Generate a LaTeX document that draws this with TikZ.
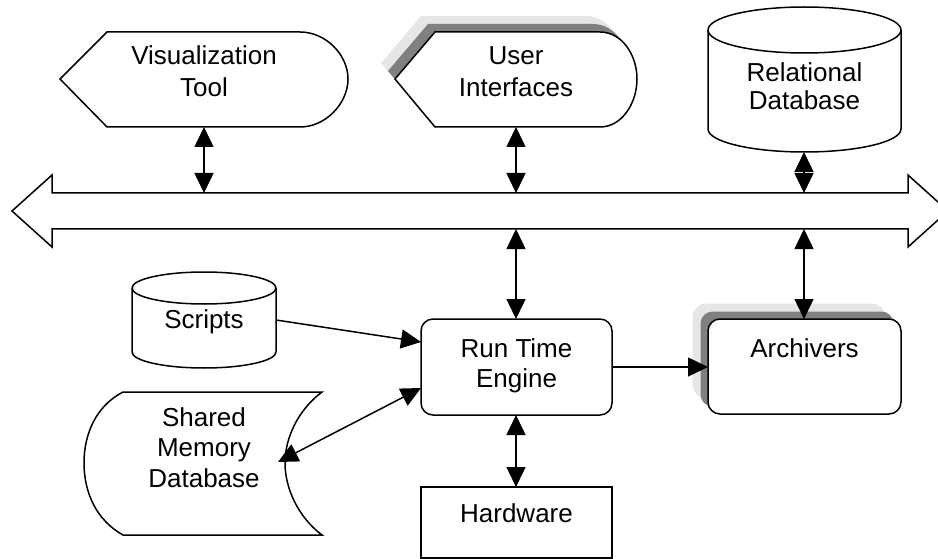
\documentclass[tikz,border=0pt]{standalone}
\usepackage{fontspec}
\setmainfont{Liberation Sans}
\usetikzlibrary{arrows.meta}
\definecolor{shdark}{HTML}{808080}
\definecolor{shlight}{HTML}{E6E6E6}
\tikzset{
  lbl/.style={font=\fontsize{26}{30.5}\selectfont, align=center, anchor=base, inner sep=0pt},
  ln/.style={line width=1.5pt},
  shp/.style={ln, fill=white},
  dbl/.style={ln, {Triangle[length=20pt,width=19pt]}-{Triangle[length=20pt,width=19pt]}},
  sgl/.style={ln, -{Triangle[length=20pt,width=19pt]}},
  boxn/.style={ln, draw, fill=white, inner sep=0pt},
}
\begin{document}
\begin{tikzpicture}[x=1pt,y=-1pt]
\useasboundingbox (0,0) rectangle (938,559);
% bus
\draw[shp] (12,211) -- (52,175) -- (52,193) -- (908,193) -- (908,175) -- (948,211) -- (908,247) -- (908,229) -- (52,229) -- (52,247) -- cycle;
% Visualization Tool
\draw[shp] (60,79) -- (107,32) -- (300,32) .. controls (326,32) and (348,55) .. (348,79) .. controls (348,103) and (326,127) .. (300,127) -- (107,127) -- cycle;
\node[lbl, font=\fontsize{26}{32}\selectfont] (vt) at (204,97) {Visualization\\Tool};
% User Interfaces with shadow
\begin{scope}[shift={(-14,-16)}]
\fill[shlight] (395,79) -- (435,32) -- (600,32) .. controls (622,32) and (637,55) .. (637,79) .. controls (637,103) and (622,127) .. (600,127) -- (435,127) -- cycle;
\end{scope}
\begin{scope}[shift={(-7,-8)}]
\fill[shdark] (395,79) -- (435,32) -- (600,32) .. controls (622,32) and (637,55) .. (637,79) .. controls (637,103) and (622,127) .. (600,127) -- (435,127) -- cycle;
\end{scope}
\draw[shp] (395,79) -- (435,32) -- (600,32) .. controls (622,32) and (637,55) .. (637,79) .. controls (637,103) and (622,127) .. (600,127) -- (435,127) -- cycle;
\node[lbl, font=\fontsize{26}{32}\selectfont] (ui) at (516,97) {User\\Interfaces};
% Relational Database cylinder
\draw[shp] (708,30) -- (708,129) .. controls (708,141.7) and (751.2,152) .. (804.5,152) .. controls (857.8,152) and (901,141.7) .. (901,129) -- (901,30) .. controls (901,17.3) and (857.8,7) .. (804.5,7) .. controls (751.2,7) and (708,17.3) .. (708,30) -- cycle;
\draw[ln] (708,30) .. controls (708,42.7) and (751.2,53) .. (804.5,53) .. controls (857.8,53) and (901,42.7) .. (901,30);
\node[lbl, font=\fontsize{26}{28.5}\selectfont] (rdb) at (804.5,110) {Relational\\Database};
% Scripts cylinder
\draw[shp] (132,288) -- (132,352) .. controls (132,360.8) and (164.2,368) .. (204,368) .. controls (243.8,368) and (276,360.8) .. (276,352) -- (276,288) .. controls (276,279.2) and (243.8,272) .. (204,272) .. controls (164.2,272) and (132,279.2) .. (132,288) -- cycle;
\draw[ln] (132,288) .. controls (132,296.8) and (164.2,304) .. (204,304) .. controls (243.8,304) and (276,296.8) .. (276,288);
\node[lbl] (scr) at (204,328) {Scripts};
% Shared Memory Database
\draw[shp] (123,392) -- (322,392) .. controls (298,410) and (285,438) .. (285,463) .. controls (285,488) and (298,517) .. (322,535) -- (123,535) .. controls (96,520) and (84,492) .. (84,463) .. controls (84,434) and (96,406) .. (123,392) -- cycle;
\node[lbl] (smd) at (204,487) {Shared\\Memory\\Database};
% Run Time Engine
\node[boxn, rounded corners=12pt, minimum width=191pt, minimum height=96pt] (rte) at (516.5,367) {};
\node[lbl, font=\fontsize{26}{30}\selectfont] (rtet) at (516.5,387) {Run Time\\Engine};
% Archivers with shadow
\node[fill=shlight, rounded corners=14pt, minimum width=193pt, minimum height=95pt, inner sep=0pt] (arsh1) at (789,351) {};
\node[fill=shdark, rounded corners=12pt, minimum width=193pt, minimum height=95pt, inner sep=0pt] (arsh2) at (797,359) {};
\node[boxn, rounded corners=12pt, minimum width=193pt, minimum height=95pt] (arc) at (804.5,366.5) {};
\node[lbl] (arct) at (804.5,357) {Archivers};
% Hardware
\node[boxn, minimum width=191pt, minimum height=71pt] (hw) at (516.5,522.5) {};
\node[lbl] (hwt) at (516.5,522) {Hardware};
% connector end points
\coordinate (vtb) at (204,127);
\coordinate (bvt) at (204,193);
\coordinate (uib) at (516,127);
\coordinate (bui) at (516,193);
\coordinate (rdbb) at (804,152);
\coordinate (brdb) at (804,193);
\coordinate (brte) at (516,229);
\coordinate (rtet0) at (516,319);
\coordinate (barc) at (804,229);
\coordinate (arct0) at (804,319);
\coordinate (scrr) at (276,320);
\coordinate (rtes) at (421,342);
\coordinate (smdr) at (278,462);
\coordinate (rtem) at (421,388);
\coordinate (rtebot) at (516,415);
\coordinate (hwtop) at (516,487);
\coordinate (rter) at (612,367);
\coordinate (arcl) at (708,367);
% connectors
\draw[dbl] (vtb) -- (bvt);
\draw[dbl] (uib) -- (bui);
\draw[dbl] (rdbb) -- (brdb);
\draw[dbl] (brte) -- (rtet0);
\draw[dbl] (barc) -- (arct0);
\draw[sgl] (scrr) -- (rtes);
\draw[dbl] (smdr) -- (rtem);
\draw[dbl] (rtebot) -- (hwtop);
\draw[sgl] (rter) -- (arcl);
\end{tikzpicture}
\end{document}
